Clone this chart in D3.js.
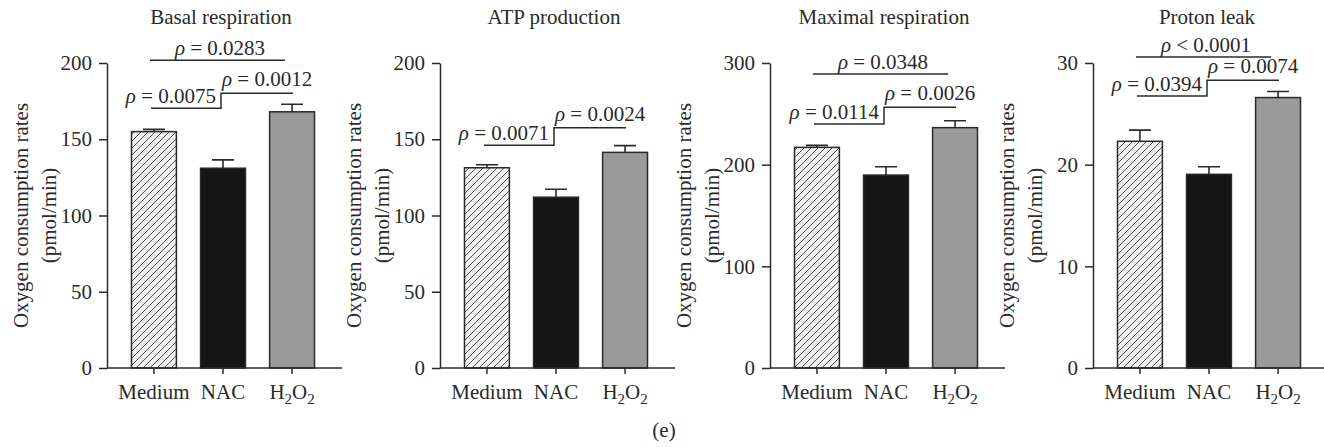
<!DOCTYPE html>
<html>
<head>
<meta charset="utf-8">
<script src="https://cdn.jsdelivr.net/npm/d3@7"></script>
<style>
  body { margin: 0; background: #fff; }
  svg text { font-family: "Liberation Serif", "Times New Roman", serif; fill: #2a2a2a; }
</style>
</head>
<body>
<svg id="chart" width="1324" height="447"></svg>
<script>
// groups on the x axis
var categories = ["Medium", "NAC", "H2O2"];

// panel titles
var titles = ["Basal respiration", "ATP production", "Maximal respiration", "Proton leak"];

// means and SEM
var basalMean = [155, 131, 168],       basalErr = [1.5, 5.5, 5];
var atpMean = [131.3, 112, 141.4],     atpErr = [2, 5.2, 4.4];
var maximalMean = [217, 189.8, 236.4], maximalErr = [2, 8.2, 6.8];
var leakMean = [22.3, 19.05, 26.6],    leakErr = [1.1, 0.75, 0.6];

// y axis
var yMax = [200, 200, 300, 30];
var yTicks = [[0, 50, 100, 150, 200], [0, 50, 100, 150, 200], [0, 100, 200, 300], [0, 10, 20, 30]];

// p values: Medium vs NAC, NAC vs H2O2, Medium vs H2O2 (null = not shown)
var pLeft = ["ρ = 0.0075", "ρ = 0.0071", "ρ = 0.0114", "ρ = 0.0394"];
var pRight = ["ρ = 0.0012", "ρ = 0.0024", "ρ = 0.0026", "ρ = 0.0074"];
var pTop = ["ρ = 0.0283", null, "ρ = 0.0348", "ρ < 0.0001"];

// bracket levels in data units
var levelLeft = [170.3, 146, 240, 26.75];
var levelRight = [180.1, 157.6, 256.4, 28.3];
var levelTop = [201.8, null, 289.2, 30.6];

var means = [basalMean, atpMean, maximalMean, leakMean];
var errs = [basalErr, atpErr, maximalErr, leakErr];

var svg = d3.select("#chart");
var axisX = [107, 440, 770, 1093];
var plotTop = 63, plotBottom = 368;
var ink = "#2a2a2a";
var fontSize = "21px";

var defs = svg.append("defs");
var pat = defs.append("pattern")
    .attr("id", "hatch")
    .attr("patternUnits", "userSpaceOnUse")
    .attr("width", 7)
    .attr("height", 7);
pat.append("rect").attr("width", 7).attr("height", 7).attr("fill", "#f1f1f1");
pat.append("path")
    .attr("d", "M-1,1 l2,-2 M0,7 l7,-7 M6,8 l2,-2")
    .attr("stroke", "#3a3a3a")
    .attr("stroke-width", 0.9);

var fills = ["url(#hatch)", "#151515", "#9a9a9a"];

// writes "ρ = 0.0075" with an italic rho
var pText = function (sel, str) {
    sel.append("tspan").style("font-style", "italic").text(str.slice(0, 1));
    sel.append("tspan").text(str.slice(1));
};

var subscriptH2O2 = function (sel) {
    sel.text(null);
    sel.append("tspan").text("H");
    sel.append("tspan").style("font-size", "15px").attr("dy", 5).text("2");
    sel.append("tspan").attr("dy", -5).text("O");
    sel.append("tspan").style("font-size", "15px").attr("dy", 5).text("2");
};

titles.forEach(function (title, i) {
    var ax = axisX[i];
    var g = svg.append("g");

    var x = d3.scaleBand()
        .domain(categories)
        .range([ax + 24.5, ax + 207.5])
        .paddingInner(0.35)
        .paddingOuter(0);

    var y = d3.scaleLinear()
        .domain([0, yMax[i]])
        .range([plotBottom, plotTop]);

    var cx = function (c) { return x(c) + x.bandwidth() / 2; };

    // title
    g.append("text")
        .attr("x", ax + 114)
        .attr("y", 24)
        .attr("text-anchor", "middle")
        .style("font-size", fontSize)
        .text(title);

    // bars
    var rows = categories.map(function (c, k) {
        return { cat: c, mean: means[i][k], err: errs[i][k], fill: fills[k] };
    });

    g.selectAll(".err")
        .data(rows)
        .enter().append("path")
        .attr("class", "err")
        .attr("fill", "none")
        .attr("stroke", ink)
        .attr("stroke-width", 1.6)
        .attr("d", function (d) {
            var c = cx(d.cat), yt = y(d.mean + d.err);
            return "M" + c + "," + y(d.mean) + "V" + yt + "M" + (c - 11) + "," + yt + "H" + (c + 11);
        });

    g.selectAll(".bar")
        .data(rows)
        .enter().append("rect")
        .attr("class", "bar")
        .attr("x", function (d) { return x(d.cat); })
        .attr("y", function (d) { return y(d.mean); })
        .attr("width", x.bandwidth())
        .attr("height", function (d) { return y(0) - y(d.mean); })
        .attr("fill", function (d) { return d.fill; })
        .attr("stroke", ink)
        .attr("stroke-width", 1.5);

    // y axis
    var yAxis = g.append("g")
        .attr("transform", "translate(" + ax + ",0)")
        .call(d3.axisLeft(y).tickValues(yTicks[i]).tickSize(8).tickSizeOuter(0).tickPadding(7));
    yAxis.selectAll("path, line").attr("stroke", ink).attr("stroke-width", 1.5);
    yAxis.selectAll("text").style("font-size", fontSize).attr("fill", ink);

    // x axis
    var xAxis = g.append("g")
        .attr("transform", "translate(0," + plotBottom + ")")
        .call(d3.axisBottom(x).tickSize(6).tickSizeOuter(0).tickPadding(10));
    xAxis.select(".domain").remove();
    xAxis.selectAll("line").attr("stroke", ink).attr("stroke-width", 1.5);
    xAxis.selectAll("text").style("font-size", fontSize).attr("fill", ink);
    xAxis.selectAll("text").filter(function (d) { return d === "H2O2"; }).call(subscriptH2O2);

    g.append("line")
        .attr("x1", ax).attr("x2", ax + 235)
        .attr("y1", plotBottom).attr("y2", plotBottom)
        .attr("stroke", ink).attr("stroke-width", 1.5);

    // y label
    var ly = (plotTop + plotBottom) / 2;
    g.append("text")
        .attr("transform", "translate(" + (ax - 86) + "," + ly + ") rotate(-90)")
        .attr("text-anchor", "middle")
        .attr("dy", "0.35em")
        .style("font-size", fontSize)
        .text("Oxygen consumption rates");
    g.append("text")
        .attr("transform", "translate(" + (ax - 58) + "," + ly + ") rotate(-90)")
        .attr("text-anchor", "middle")
        .attr("dy", "0.35em")
        .style("font-size", fontSize)
        .text("(pmol/min)");

    // brackets
    var c0 = cx(categories[0]), c1 = cx(categories[1]), c2 = cx(categories[2]);
    var yl = y(levelLeft[i]), yr = y(levelRight[i]);
    var mid = c1 - 2;
    g.append("path")
        .attr("fill", "none")
        .attr("stroke", ink)
        .attr("stroke-width", 1.5)
        .attr("d", "M" + (c0 - 3) + "," + yl + "H" + mid + "V" + yr + "H" + (c2 + 1));
    g.append("text")
        .attr("x", mid - 5).attr("y", yl - 5)
        .attr("text-anchor", "end")
        .style("font-size", fontSize)
        .call(pText, pLeft[i]);
    g.append("text")
        .attr("x", mid + 1).attr("y", yr - 7)
        .style("font-size", fontSize)
        .call(pText, pRight[i]);

    if (pTop[i]) {
        var yt = y(levelTop[i]);
        g.append("line")
            .attr("x1", c0 - 4).attr("x2", c2 - 7)
            .attr("y1", yt).attr("y2", yt)
            .attr("stroke", ink).attr("stroke-width", 1.5);
        g.append("text")
            .attr("x", (c0 + c2) / 2 - 3).attr("y", yt - 5)
            .attr("text-anchor", "middle")
            .style("font-size", fontSize)
            .call(pText, pTop[i]);
    }
});

svg.append("text")
    .attr("x", 664)
    .attr("y", 437)
    .attr("text-anchor", "middle")
    .style("font-size", fontSize)
    .text("(e)");
</script>
</body>
</html>
